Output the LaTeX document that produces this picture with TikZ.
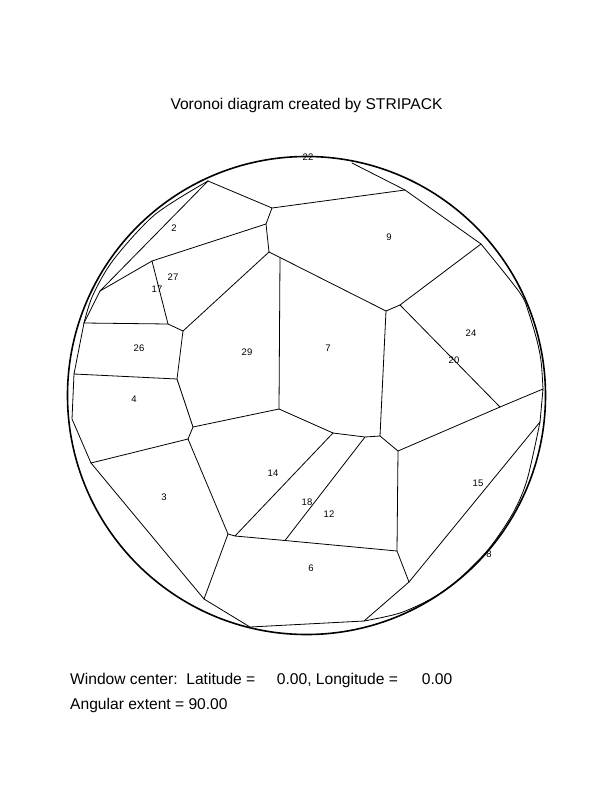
\documentclass[tikz,border=0pt]{standalone}
\usepackage{fontspec}
\setmainfont{Liberation Sans}
\begin{document}
\begin{tikzpicture}[x=1pt,y=-1pt]
\tikzset{
  edge/.style={line width=0.8pt, line join=round, line cap=round},
  horizon/.style={line width=1.6pt},
  lab/.style={font=\fontsize{9.5}{11}\selectfont, inner sep=0pt},
  txt/.style={font=\fontsize{15.6}{18}\selectfont, inner sep=0pt, anchor=base west}
}
\useasboundingbox (0,0) rectangle (612,792);
% vertices
\coordinate (ctr) at (306.5,395.5);
\coordinate (A) at (208,181);
\coordinate (B) at (272,208);
\coordinate (C) at (266,224);
\coordinate (D) at (269,252);
\coordinate (E) at (152,261);
\coordinate (F) at (100,291);
\coordinate (G) at (84,323);
\coordinate (H) at (168,324);
\coordinate (I) at (183,331);
\coordinate (J) at (280,257.5);
\coordinate (J2) at (279,409);
\coordinate (K) at (74,374);
\coordinate (L) at (177,379);
\coordinate (M) at (405,190);
\coordinate (Mt) at (352,163);
\coordinate (N) at (481,244);
\coordinate (O) at (386,311);
\coordinate (P) at (400,305);
\coordinate (Q) at (500,407);
\coordinate (R) at (543,389);
\coordinate (S) at (398,451);
\coordinate (T) at (380,436);
\coordinate (U) at (365,437);
\coordinate (V) at (333,433);
\coordinate (W) at (397,551);
\coordinate (X) at (409,582);
\coordinate (Y) at (364,621);
\coordinate (Z) at (540,422);
\coordinate (AA) at (193,427);
\coordinate (AB) at (188,439);
\coordinate (AC) at (91,463);
\coordinate (AD) at (72,419);
\coordinate (AE) at (228,534);
\coordinate (AF) at (235,536);
\coordinate (AG) at (285,540.5);
\coordinate (AH) at (204,599);
\coordinate (AI) at (250,627);
% horizon circle
\draw[horizon] (ctr) circle[radius=239pt];
% straight edges
\draw[edge] (A) -- (B) -- (C) -- (D) -- (J) -- (O) -- (P) -- (N) -- (M) -- (B);
\draw[edge] (M) -- (Mt);
\draw[edge] (A) -- (F) -- (G) -- (K) -- (AD) -- (AC) -- (AB) -- (AA) -- (L) -- (I) -- (H) -- (E) -- (C);
\draw[edge] (E) -- (F);
\draw[edge] (G) -- (H);
\draw[edge] (K) -- (L);
\draw[edge] (I) -- (D);
\draw[edge] (J) -- (J2) -- (V) -- (U) -- (T) -- (O);
\draw[edge] (AA) -- (J2);
\draw[edge] (T) -- (S) -- (Q) -- (R) -- (Z) -- (X) -- (W) -- (S);
\draw[edge] (P) -- (Q);
\draw[edge] (V) -- (AF) -- (AE) -- (AB);
\draw[edge] (U) -- (AG);
\draw[edge] (AF) -- (AG) -- (W);
\draw[edge] (AE) -- (AH) -- (AC);
\draw[edge] (AH) -- (AI) -- (Y) -- (X);
% edges running close to the horizon
\draw[edge] plot[smooth] coordinates {(A) (154.8,214.7) (113.2,260.1) (92.6,295.8) (G)};
\draw[edge] plot[smooth] coordinates {(N) (520,293) (529.2,314.4) (537.4,342.2) (541.2,362.5) (R)};
\draw[edge] plot[smooth] coordinates {(Z) (527,480) (513,513) (488.8,548.8) (459.8,578.2) (432.9,597.8) (400,613) (Y)};
% generator labels
\node[lab] (l22) at (308,157) {22};
\node[lab] (l2) at (174,228) {2};
\node[lab] (l27) at (173,277) {27};
\node[lab] (l17) at (157,289) {17};
\node[lab] (l26) at (139,348) {26};
\node[lab] (l29) at (247,352) {29};
\node[lab] (l9) at (389,237) {9};
\node[lab] (l7) at (328,348) {7};
\node[lab] (l24) at (471,333) {24};
\node[lab] (l20) at (454,360) {20};
\node[lab] (l4) at (134,399) {4};
\node[lab] (l3) at (164,497) {3};
\node[lab] (l14) at (273,473) {14};
\node[lab] (l18) at (307,502) {18};
\node[lab] (l12) at (329,514) {12};
\node[lab] (l6) at (311,568) {6};
\node[lab] (l15) at (478,483) {15};
\node[lab] (l8) at (489,554) {8};
% texts
\node[txt, anchor=base] (title) at (306.5,109) {Voronoi diagram created by STRIPACK};
\node[txt] (wc1) at (70,684) {Window center:\ \ Latitude =};
\node[txt] (wc2) at (276.7,684) {0.00, Longitude =};
\node[txt] (wc3) at (421.7,684) {0.00};
\node[txt] (ext) at (70,709.3) {Angular extent = 90.00};
\end{tikzpicture}
\end{document}
